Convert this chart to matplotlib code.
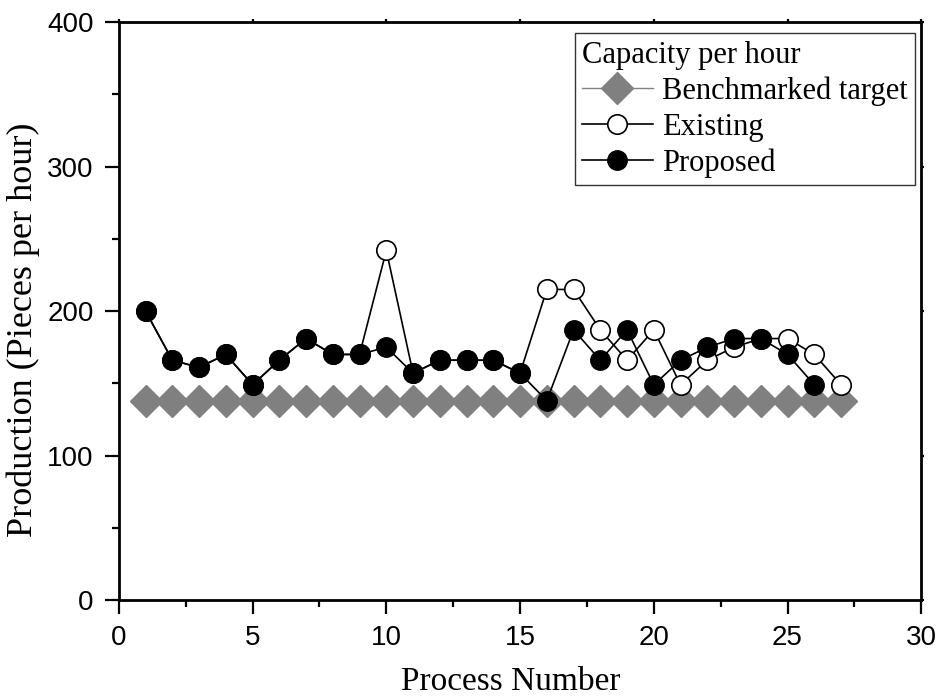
import matplotlib.pyplot as plt
from matplotlib.ticker import MultipleLocator

# process numbers and capacities (pieces per hour)
process = list(range(1, 28))
benchmark = [138] * 27
existing = [200, 166, 161, 170, 149, 166, 181, 170, 170, 242, 157, 166, 166, 166, 157,
            215, 215, 187, 166, 187, 149, 166, 175, 181, 181, 170, 149]
proposed = [200, 166, 161, 170, 149, 166, 181, 170, 170, 175, 157, 166, 166, 166, 157,
            138, 187, 166, 187, 149, 166, 175, 181, 181, 170, 149]

serif = ["Liberation Serif", "DejaVu Serif"]
sans = ["Liberation Sans", "DejaVu Sans"]

fig = plt.figure(figsize=(9.43, 6.96), dpi=100)
ax = fig.add_axes([0.126, 0.138, 0.851, 0.83])

ax.plot(process, benchmark, color="#808080", lw=1, marker="D", ms=16,
        mfc="#808080", mec="#808080", label="Benchmarked target", zorder=2)
ax.plot(process, existing, color="black", lw=1.2, marker="o", ms=14,
        mfc="white", mec="black", mew=1.2, label="Existing", zorder=3)
ax.plot(process[:len(proposed)], proposed, color="black", lw=1.2, marker="o", ms=14,
        mfc="black", mec="black", label="Proposed", zorder=4)

ax.set_xlim(0, 30)
ax.set_ylim(0, 400)
ax.xaxis.set_major_locator(MultipleLocator(5))
ax.xaxis.set_minor_locator(MultipleLocator(2.5))
ax.yaxis.set_major_locator(MultipleLocator(100))
ax.yaxis.set_minor_locator(MultipleLocator(50))

for s in ax.spines.values():
    s.set_linewidth(2)
ax.tick_params(which="major", direction="out", length=10, width=1.6,
               labelsize=20, pad=8)
ax.tick_params(which="minor", direction="out", length=5, width=1.6)
ax.tick_params(which="both", top=True, right=True, labeltop=False, labelright=False)
for lab in ax.get_xticklabels() + ax.get_yticklabels():
    lab.set_family(sans)
# tiny ticks on top and right edges
for t in ax.xaxis.get_major_ticks() + ax.yaxis.get_major_ticks():
    t.tick2line.set_markersize(2)
for t in ax.xaxis.get_minor_ticks() + ax.yaxis.get_minor_ticks():
    t.tick2line.set_markersize(0)

ax.set_xlabel("Process Number", family=serif, fontsize=24)
ax.set_ylabel("Production (Pieces per hour)", family=serif, fontsize=26)
ax.xaxis.set_label_coords(0.488, -0.115)
ax.yaxis.set_label_coords(-0.098, 0.467)

leg = ax.legend(title="Capacity per hour", loc="upper right", fancybox=False,
                bbox_to_anchor=(915 / 943, 1 - 33 / 696), bbox_transform=fig.transFigure,
                prop={"family": serif, "size": 22}, title_fontproperties={"family": serif, "size": 22},
                handlelength=2.3, handletextpad=0.3, borderpad=0.25, labelspacing=0.22,
                borderaxespad=0, framealpha=1)
leg._legend_box.align = "left"
leg.get_frame().set_edgecolor("#333333")
leg.get_frame().set_linewidth(1)

fig.savefig("out.png", dpi=100)
